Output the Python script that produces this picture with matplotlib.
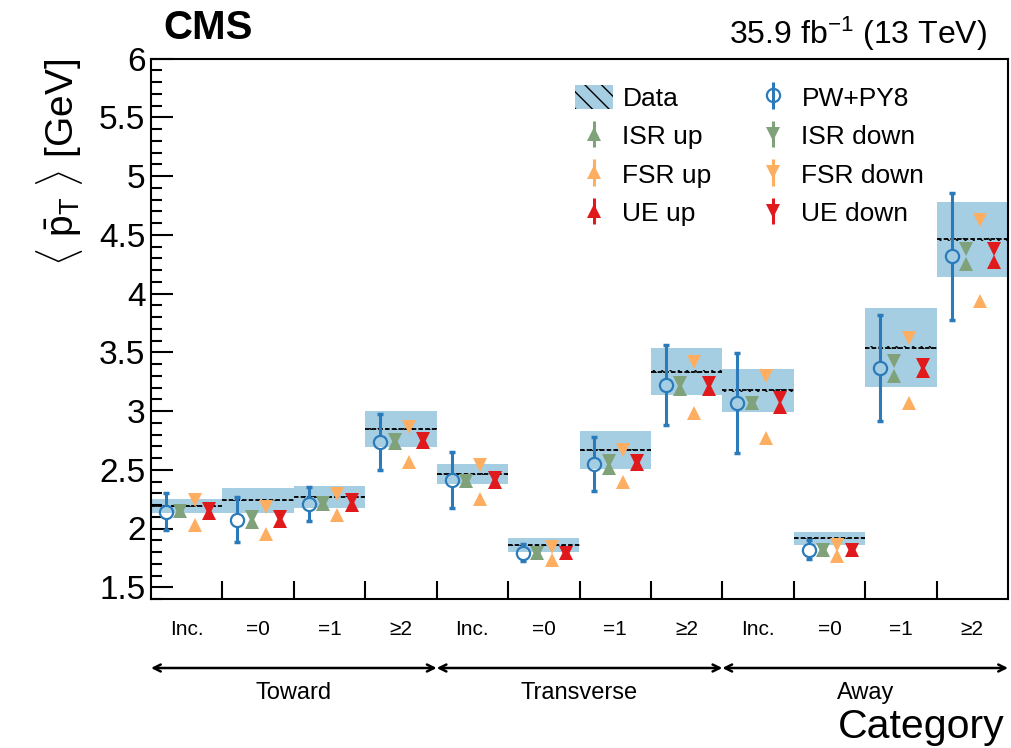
import numpy as np
import matplotlib
matplotlib.use("Agg")
import matplotlib.pyplot as plt
from matplotlib.patches import Patch

plt.rcParams['font.family'] = ['Liberation Sans', 'DejaVu Sans']
plt.rcParams['mathtext.fontset'] = 'custom'
plt.rcParams['mathtext.rm'] = 'Liberation Sans'
plt.rcParams['mathtext.it'] = 'Liberation Sans:italic'
plt.rcParams['hatch.linewidth'] = 1.0

# categories
bins = ['Inc.', '=0', '=1', '\u22652'] * 3
regions = ['Toward', 'Transverse', 'Away']

# measured mean pT (data) with total and stat uncertainty
data_val = [2.19, 2.24, 2.27, 2.845, 2.465, 1.858, 2.67, 3.335, 3.175, 1.915, 3.54, 4.46]
data_tot = [0.06, 0.106, 0.095, 0.153, 0.087, 0.061, 0.163, 0.20, 0.186, 0.058, 0.336, 0.32]
data_stat = [0.006, 0.006, 0.006, 0.01, 0.006, 0.005, 0.01, 0.012, 0.012, 0.005, 0.015, 0.015]

# nominal POWHEG+PYTHIA8
pw_val = [2.144, 2.076, 2.208, 2.738, 2.41, 1.795, 2.548, 3.222, 3.068, 1.82, 3.365, 4.318]
pw_err = [0.159, 0.19, 0.147, 0.237, 0.237, 0.075, 0.232, 0.343, 0.425, 0.08, 0.448, 0.54]

# systematic variations
isr_up = [2.146, 2.059, 2.207, 2.73, 2.406, 1.792, 2.513, 3.19, 3.064, 1.82, 3.297, 4.253]
isr_down = [2.146, 2.094, 2.22, 2.754, 2.406, 1.792, 2.573, 3.24, 3.064, 1.82, 3.426, 4.378]
fsr_up = [2.027, 1.953, 2.116, 2.567, 2.248, 1.735, 2.40, 2.98, 2.77, 1.764, 3.068, 3.932]
fsr_down = [2.24, 2.18, 2.293, 2.86, 2.539, 1.84, 2.668, 3.413, 3.30, 1.863, 3.624, 4.627]
ue_up = [2.13, 2.065, 2.20, 2.74, 2.395, 1.795, 2.545, 3.19, 3.035, 1.82, 3.34, 4.27]
ue_down = [2.17, 2.10, 2.24, 2.765, 2.43, 1.795, 2.575, 3.24, 3.11, 1.82, 3.39, 4.375]

c_box = '#a6cee3'
c_pw = '#2b7bba'
c_isr = '#7fa27a'
c_fsr = '#fdae61'
c_ue = '#e0191c'

W, H = 1011, 748
fig = plt.figure(figsize=(W / 100, H / 100), dpi=100)
ax = fig.add_axes([151 / W, 1 - 599 / H, (1008 - 151) / W, (599 - 58.5) / H])
ymin, ymax = 1.4, 6.0
ax.set_xlim(0, 12)
ax.set_ylim(ymin, ymax)

nb = len(data_val)
edges = np.arange(nb)
dv = np.array(data_val)
dt = np.array(data_tot)
ds = np.array(data_stat)

# data: total uncertainty boxes, stat band and central value
ax.bar(edges, 2 * dt, bottom=dv - dt, width=1.0, align='edge', color=c_box, lw=0, zorder=1)
ax.bar(edges, 2 * ds, bottom=dv - ds, width=1.0, align='edge', facecolor='none',
       edgecolor='black', hatch='\\\\\\\\', lw=0, zorder=2)
ax.hlines(dv, edges, edges + 1, colors='black', lw=1.3, linestyles=(0, (2.5, 1.2)), zorder=2)

ms = 9.5
# PW+PY8 open circles; error bar stops at the circle edge
xpw = edges + 0.21
pw = np.array(pw_val)
pe = np.array(pw_err)
gap = (ms / 2 * 100 / 72) / (ax.bbox.height / (ymax - ymin))
ax.vlines(xpw, pw + gap, pw + pe, colors=c_pw, lw=2.2, zorder=3)
ax.vlines(xpw, pw - pe, pw - gap, colors=c_pw, lw=2.2, zorder=3)
ax.plot(xpw, pw + pe, ls='none', marker='_', ms=5, mew=2.5, color=c_pw, zorder=3)
ax.plot(xpw, pw - pe, ls='none', marker='_', ms=5, mew=2.5, color=c_pw, zorder=3)
ax.plot(xpw, pw, ls='none', marker='o', ms=ms, mfc='none', mec=c_pw, mew=1.6, zorder=4)

for off, up, dn, col in [(0.41, isr_up, isr_down, c_isr),
                         (0.61, fsr_up, fsr_down, c_fsr),
                         (0.81, ue_up, ue_down, c_ue)]:
    ax.plot(edges + off, up, ls='none', marker='^', ms=ms, mew=0, color=col, zorder=5)
    ax.plot(edges + off, dn, ls='none', marker='v', ms=ms, mew=0, color=col, zorder=5)

# axes styling
for s in ax.spines.values():
    s.set_linewidth(1.5)
ax.set_yticks(np.arange(1.5, 6.01, 0.5))
ax.set_yticklabels(['1.5', '2', '2.5', '3', '3.5', '4', '4.5', '5', '5.5', '6'])
ax.set_yticks(np.arange(1.4, 6.001, 0.1), minor=True)
ax.tick_params(axis='y', which='major', direction='in', length=16, width=1.5, labelsize=24, pad=4)
ax.tick_params(axis='y', which='minor', direction='in', length=8, width=1.5)
ax.set_xticks(np.arange(1, nb))
ax.tick_params(axis='x', which='major', direction='in', length=13, width=1.5, labelbottom=False)
ax.set_xticks(edges + 0.5, minor=True)
ax.set_xticklabels(bins, minor=True, fontsize=15)
ax.tick_params(axis='x', which='minor', length=0, pad=15)

ax.set_ylabel(r'$\langle\ \bar{\mathrm{p}}_{\mathrm{T}}\ \rangle$ [GeV]', fontsize=28, loc='top', labelpad=10)

# region arrows and labels under the category labels
y_arr = (H - 668) / H
for i, reg in enumerate(regions):
    ax.annotate('', xy=(4 * i, y_arr), xytext=(4 * i + 4, y_arr),
                xycoords=('data', 'figure fraction'), textcoords=('data', 'figure fraction'),
                arrowprops=dict(arrowstyle='<->,head_length=0.5,head_width=0.25', lw=1.8,
                                color='black', shrinkA=0, shrinkB=0))
    ax.annotate(reg, xy=(4 * i + 2, (H - 693) / H), xycoords=('data', 'figure fraction'),
                ha='center', va='center', fontsize=17)

fig.text(1005 / W, (H - 727) / H, 'Category', ha='right', va='center', fontsize=29.5)
fig.text(163 / W, (H - 28) / H, 'CMS', ha='left', va='center', fontsize=29, fontweight='bold')
fig.text(987 / W, (H - 34) / H, r'35.9 fb$^{\mathrm{-1}}$ (13 TeV)', ha='right', va='center', fontsize=23)

# legend
h_data = Patch(facecolor=c_box, edgecolor='black', hatch='\\\\', lw=0)
def proxy(marker, col, mfc=None):
    return ax.errorbar([np.nan], [np.nan], yerr=[1], fmt=marker, ms=ms, color=col,
                       mfc=mfc if mfc else col, mec=col, mew=1.6 if mfc else 0,
                       elinewidth=2.2, capsize=0)
h_pw = proxy('o', c_pw, mfc='none')
h_isr_u = proxy('^', c_isr)
h_isr_d = proxy('v', c_isr)
h_fsr_u = proxy('^', c_fsr)
h_fsr_d = proxy('v', c_fsr)
h_ue_u = proxy('^', c_ue)
h_ue_d = proxy('v', c_ue)
handles = [h_data, h_isr_u, h_fsr_u, h_ue_u, h_pw, h_isr_d, h_fsr_d, h_ue_d]
labels = ['Data', 'ISR up', 'FSR up', 'UE up', 'PW+PY8', 'ISR down', 'FSR down', 'UE down']
ax.legend(handles, labels, ncol=2, loc='upper left', bbox_to_anchor=(575 / W, 1 - 85 / H),
          bbox_transform=fig.transFigure, frameon=False, fontsize=19, borderpad=0,
          borderaxespad=0, handlelength=1.45, handletextpad=0.35, labelspacing=0.48,
          columnspacing=1.6, handleheight=1.0)

fig.savefig('out.png', dpi=100)
